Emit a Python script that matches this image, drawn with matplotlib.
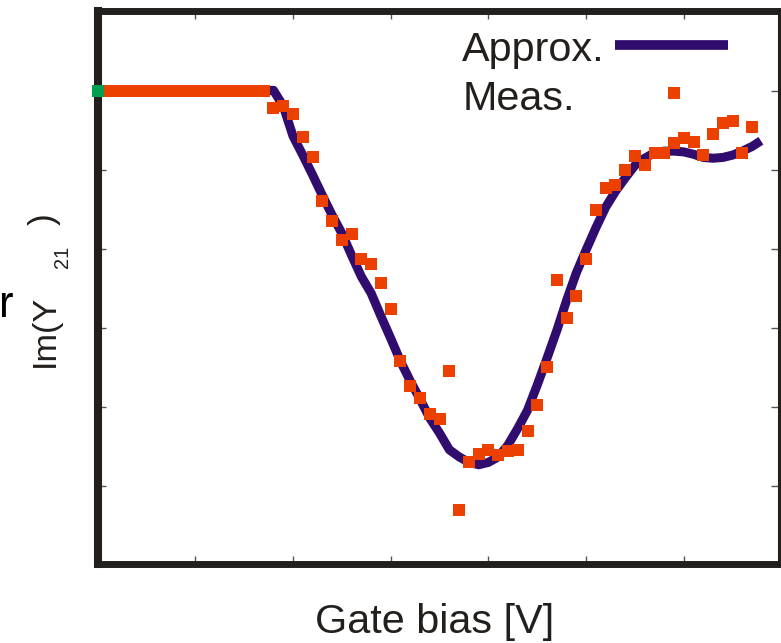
import numpy as np
import matplotlib
matplotlib.use('Agg')
import matplotlib.pyplot as plt
from matplotlib import font_manager
from matplotlib.lines import Line2D

### data (gate bias in V, Im(Y21) in tick units)
gate_meas = [0.0, 0.1, 0.2, 0.3, 0.4, 0.5, 0.6, 0.7, 0.8, 0.9, 1.0, 1.1, 1.2, 1.3, 1.4, 1.5, 1.6, 1.7,
             1.8, 1.9, 2.0, 2.1, 2.2, 2.3, 2.4, 2.5, 2.6, 2.7, 2.8, 2.9, 3.0, 3.1, 3.2, 3.3, 3.4, 3.5,
             3.6, 3.7, 3.8, 3.9, 4.0, 4.1, 4.2, 4.3, 4.4, 4.5, 4.6, 4.7, 4.8, 4.9, 5.0, 5.1, 5.2, 5.3,
             5.4, 5.5, 5.6, 5.7, 5.8, 5.9, 5.9, 6.0, 6.1, 6.2, 6.3, 6.4, 6.5, 6.6, 6.7]
im_meas = [6.0, 6.0, 6.0, 6.0, 6.0, 6.0, 6.0, 6.0, 6.0, 6.0, 6.0, 6.0, 6.0, 6.0, 6.0, 6.0, 6.0, 6.0,
           5.79, 5.81, 5.71, 5.42, 5.16, 4.61, 4.35, 4.11, 4.19, 3.87, 3.81, 3.57, 3.24, 2.58, 2.27, 2.12, 1.91, 1.85,
           2.46, 0.70, 1.31, 1.41, 1.46, 1.39, 1.44, 1.46, 1.70, 2.03, 2.51, 3.61, 3.13, 3.41, 3.88, 4.49, 4.77, 4.81,
           5.00, 5.18, 5.06, 5.22, 5.22, 5.97, 5.34, 5.41, 5.35, 5.19, 5.46, 5.59, 5.62, 5.22, 5.55]

gate_fit = [0.0, 0.5, 1.0, 1.5, 1.7, 1.8, 1.9, 2.0, 2.1, 2.2, 2.3, 2.4, 2.5, 2.6, 2.7, 2.8, 2.9, 3.0,
            3.1, 3.2, 3.3, 3.4, 3.5, 3.6, 3.7, 3.8, 3.9, 4.0, 4.1, 4.2, 4.3, 4.4, 4.5, 4.6, 4.7, 4.8,
            4.9, 5.0, 5.1, 5.2, 5.3, 5.4, 5.5, 5.6, 5.7, 5.8, 5.9, 6.0, 6.1, 6.2, 6.3, 6.4, 6.5, 6.6,
            6.7, 6.75]
im_fit = [6.0, 6.0, 6.0, 6.0, 6.0, 6.01, 5.81, 5.43, 5.19, 4.94, 4.68, 4.43, 4.20, 3.92, 3.65, 3.44, 3.15, 2.87,
          2.58, 2.33, 2.10, 1.86, 1.67, 1.46, 1.37, 1.30, 1.27, 1.30, 1.37, 1.52, 1.73, 1.96, 2.28, 2.62, 2.97, 3.35,
          3.70, 3.99, 4.27, 4.53, 4.73, 4.90, 5.06, 5.15, 5.22, 5.24, 5.24, 5.23, 5.20, 5.16, 5.15, 5.16, 5.19, 5.24,
          5.30, 5.34]

xticks = [1, 2, 3, 4, 5, 6]
yticks = [1, 2, 3, 4, 5, 6]

### font: narrow sans if we have it
names = {f.name for f in font_manager.fontManager.ttflist}
if 'Liberation Sans Narrow' in names:
    fam, k = 'Liberation Sans Narrow', 1.0
else:
    fam, k = 'Liberation Sans', 0.85
plt.rcParams['font.family'] = [fam, 'DejaVu Sans']

W, H = 781, 643
fig = plt.figure(figsize=(W / 100, H / 100), dpi=100)
ax = fig.add_axes([97.6 / W, 1 - 563.5 / H, (779 - 97.6) / W, 553 / H])

line_col = '#300C6E'
meas_col = '#EC4000'

ax.plot(gate_fit, im_fit, color=line_col, lw=6.5, solid_joinstyle='round', zorder=2)
ax.plot(gate_meas[1:], im_meas[1:], 's', color=meas_col, ms=8.8, mew=0, zorder=3)
ax.plot(gate_meas[:1], im_meas[:1], 's', color='#00A050', ms=8.2, mew=0, zorder=5, clip_on=False)

ax.set_xlim(0, 6.974)
ax.set_ylim(0.02, 7.02)
ax.set_xticks(xticks)
ax.set_yticks(yticks)
ax.tick_params(direction='in', length=6, width=1.0, color='#555555',
               top=True, right=True, labelbottom=False, labelleft=False)

spine_col = '#231F1C'
for side, w in [('left', 5.8), ('bottom', 5.0), ('top', 5.0), ('right', 2.2)]:
    ax.spines[side].set_linewidth(w)
    ax.spines[side].set_color(spine_col)
    ax.spines[side].set_zorder(4)

txt_col = '#231F1C'

def fx(px):
    return px / W

def fy(py):
    return 1 - py / H

# axis labels
fig.text(fx(434.5), fy(633), 'Gate bias [V]', ha='center', va='baseline',
         fontsize=35 * k, color=txt_col)
fig.text(fx(54), fy(367), 'Im(Y', rotation=90, rotation_mode='anchor',
         ha='left', va='baseline', fontsize=29 * k, color=txt_col)
fig.text(fx(68), fy(268), '21', rotation=90, rotation_mode='anchor',
         ha='left', va='baseline', fontsize=17 * k, color=txt_col)
fig.text(fx(54), fy(225), ')', rotation=90, rotation_mode='anchor',
         ha='left', va='baseline', fontsize=30 * k, color=txt_col)
fig.text(fx(13), fy(317), 'r', ha='right', va='baseline', fontsize=37 * k, color='black')

# legend
fig.text(fx(462), fy(61), 'Approx.', ha='left', va='baseline', fontsize=35 * k, color=txt_col)
fig.text(fx(463), fy(110), 'Meas.', ha='left', va='baseline', fontsize=35 * k, color=txt_col)
fig.add_artist(Line2D([fx(615), fx(728)], [fy(45), fy(45)], color=line_col, lw=7,
                      solid_capstyle='butt', transform=fig.transFigure))

fig.savefig('out.png', dpi=100)
